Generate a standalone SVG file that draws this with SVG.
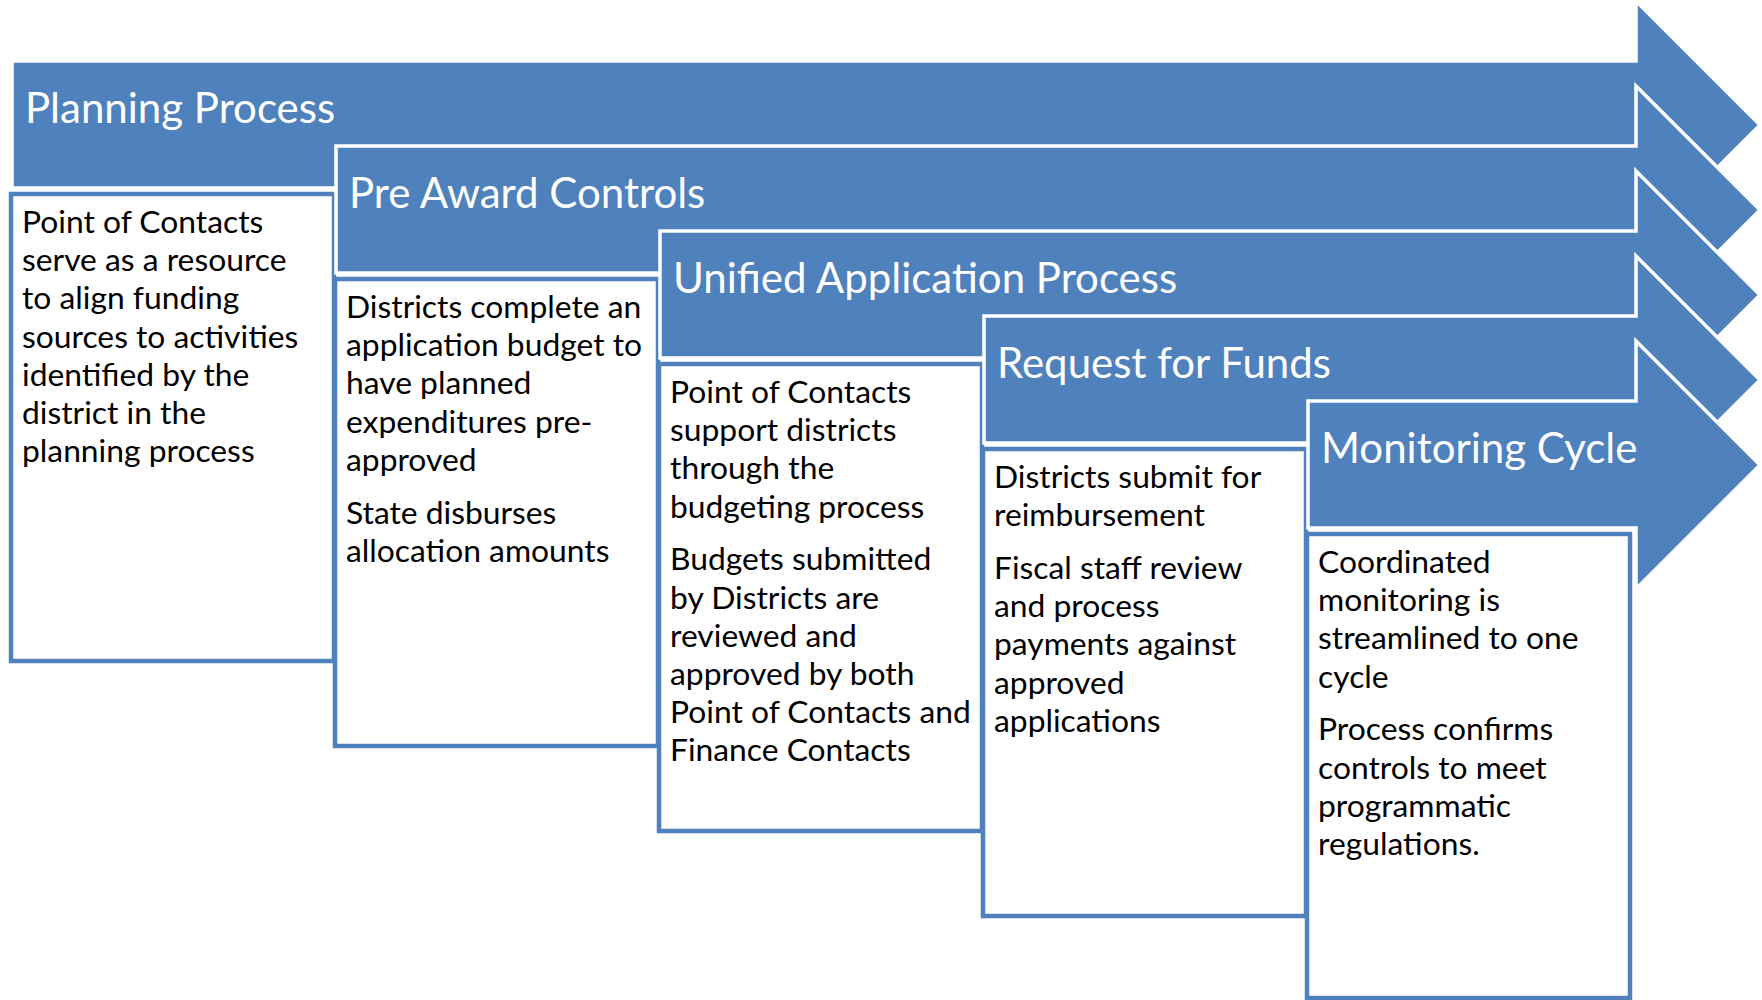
<svg xmlns="http://www.w3.org/2000/svg" width="1762" height="1000" viewBox="0 0 1762 1000">
  <style>
    .arrow { fill: #4F81BD; stroke: #FFFFFF; stroke-width: 3.5; stroke-linejoin: miter; }
    .box { fill: #FFFFFF; stroke: #4F81BD; stroke-width: 4.5; }
    .title { font-family: Lato, "Liberation Sans", sans-serif; font-size: 42px; fill: #FFFFFF; }
    .body { font-family: Lato, "Liberation Sans", sans-serif; font-size: 31.8px; fill: #000000; }
  </style>
  <rect x="0" y="0" width="1762" height="1000" fill="#FFFFFF"/>

  <g id="node-planning">
    <polygon class="arrow" points="12,61 1636,61 1636,1 1760,125 1636,249 1636,188 12,188"/>
    <text class="title" x="25" y="123">Planning Process</text>
    <rect class="box" x="11" y="194" width="323" height="467"/>
    <text class="body">
      <tspan x="22" y="233">Point of Contacts</tspan>
      <tspan x="22" dy="38.2">serve as a resource</tspan>
      <tspan x="22" dy="38.2">to align funding</tspan>
      <tspan x="22" dy="38.2">sources to activities</tspan>
      <tspan x="22" dy="38.2">identified by the</tspan>
      <tspan x="22" dy="38.2">district in the</tspan>
      <tspan x="22" dy="38.2">planning process</tspan>
    </text>
  </g>

  <g id="node-preaward">
    <polygon class="arrow" points="336,146 1636,146 1636,86 1760,210 1636,334 1636,273 336,273"/>
    <text class="title" x="349" y="208">Pre Award Controls</text>
    <rect class="box" x="335" y="279" width="323" height="467"/>
    <text class="body">
      <tspan x="346" y="318">Districts complete an</tspan>
      <tspan x="346" dy="38.2">application budget to</tspan>
      <tspan x="346" dy="38.2">have planned</tspan>
      <tspan x="346" dy="38.2">expenditures pre-</tspan>
      <tspan x="346" dy="38.2">approved</tspan>
      <tspan x="346" dy="52.8">State disburses</tspan>
      <tspan x="346" dy="38.2">allocation amounts</tspan>
    </text>
  </g>

  <g id="node-unified">
    <polygon class="arrow" points="660,231 1636,231 1636,171 1760,295 1636,419 1636,358 660,358"/>
    <text class="title" x="673" y="293">Unified Application Process</text>
    <rect class="box" x="659" y="364" width="323" height="467"/>
    <text class="body">
      <tspan x="670" y="403">Point of Contacts</tspan>
      <tspan x="670" dy="38.2">support districts</tspan>
      <tspan x="670" dy="38.2">through the</tspan>
      <tspan x="670" dy="38.2">budgeting process</tspan>
      <tspan x="670" dy="52.8">Budgets submitted</tspan>
      <tspan x="670" dy="38.2">by Districts are</tspan>
      <tspan x="670" dy="38.2">reviewed and</tspan>
      <tspan x="670" dy="38.2">approved by both</tspan>
      <tspan x="670" dy="38.2">Point of Contacts and</tspan>
      <tspan x="670" dy="38.2">Finance Contacts</tspan>
    </text>
  </g>

  <g id="node-request">
    <polygon class="arrow" points="984,316 1636,316 1636,256 1760,380 1636,504 1636,443 984,443"/>
    <text class="title" x="997" y="378">Request for Funds</text>
    <rect class="box" x="983" y="449" width="323" height="467"/>
    <text class="body">
      <tspan x="994" y="488">Districts submit for</tspan>
      <tspan x="994" dy="38.2">reimbursement</tspan>
      <tspan x="994" dy="52.8">Fiscal staff review</tspan>
      <tspan x="994" dy="38.2">and process</tspan>
      <tspan x="994" dy="38.2">payments against</tspan>
      <tspan x="994" dy="38.2">approved</tspan>
      <tspan x="994" dy="38.2">applications</tspan>
    </text>
  </g>

  <g id="node-monitoring">
    <polygon class="arrow" points="1308,401 1636,401 1636,341 1760,465 1636,589 1636,528 1308,528"/>
    <text class="title" x="1321" y="463">Monitoring Cycle</text>
    <rect class="box" x="1307" y="534" width="323" height="464"/>
    <text class="body">
      <tspan x="1318" y="573">Coordinated</tspan>
      <tspan x="1318" dy="38.2">monitoring is</tspan>
      <tspan x="1318" dy="38.2">streamlined to one</tspan>
      <tspan x="1318" dy="38.2">cycle</tspan>
      <tspan x="1318" dy="52.8">Process confirms</tspan>
      <tspan x="1318" dy="38.2">controls to meet</tspan>
      <tspan x="1318" dy="38.2">programmatic</tspan>
      <tspan x="1318" dy="38.2">regulations.</tspan>
    </text>
  </g>

  <g id="connectors"/>
</svg>
